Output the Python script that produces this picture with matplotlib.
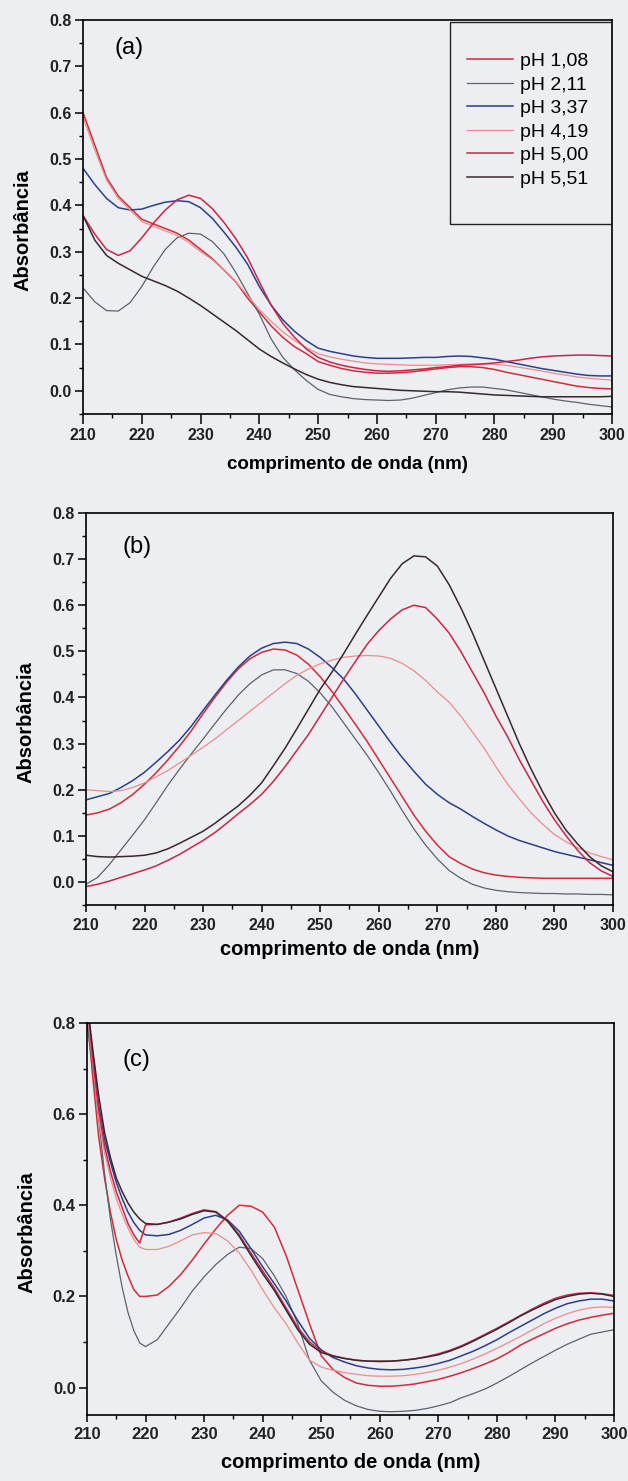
import numpy as np
import matplotlib.pyplot as plt
from matplotlib.patches import Rectangle
from matplotlib.ticker import MultipleLocator

plt.rcParams['font.family'] = ['Liberation Sans', 'DejaVu Sans']

LABELS = ['pH 1,08', 'pH 2,11', 'pH 3,37', 'pH 4,19', 'pH 5,00', 'pH 5,51']
COLORS = ['#d42a3a', '#5c636b', '#2b3f8c', '#ec8c8c', '#cc2448', '#3a2830']

# wavelength grids (nm)
WL_A = list(range(210, 301, 2))
WL_B = list(range(210, 301, 2))
WL_C = list(range(210, 221, 1)) + list(range(222, 301, 2))

# panel (a) absorbance
A_108 = [0.600, 0.530, 0.460, 0.420, 0.395, 0.370, 0.360, 0.350, 0.340, 0.325,
         0.305, 0.285, 0.260, 0.235, 0.200, 0.170, 0.140, 0.115, 0.095, 0.080,
         0.063, 0.055, 0.048, 0.043, 0.040, 0.038, 0.038, 0.039, 0.041, 0.044,
         0.047, 0.050, 0.052, 0.052, 0.050, 0.046, 0.040, 0.035, 0.030, 0.025,
         0.020, 0.015, 0.010, 0.007, 0.005, 0.004]
A_211 = [0.222, 0.192, 0.173, 0.172, 0.190, 0.225, 0.268, 0.305, 0.330, 0.340,
         0.338, 0.322, 0.295, 0.255, 0.210, 0.165, 0.112, 0.072, 0.045, 0.022,
         0.003, -0.008, -0.013, -0.017, -0.019, -0.020, -0.021, -0.020, -0.016, -0.010,
         -0.004, 0.002, 0.006, 0.008, 0.008, 0.005, 0.002, -0.003, -0.008, -0.013,
         -0.018, -0.022, -0.025, -0.029, -0.032, -0.035]
A_337 = [0.480, 0.445, 0.415, 0.395, 0.390, 0.392, 0.400, 0.407, 0.410, 0.408,
         0.395, 0.372, 0.342, 0.310, 0.273, 0.225, 0.185, 0.153, 0.128, 0.108,
         0.092, 0.085, 0.080, 0.075, 0.072, 0.070, 0.070, 0.070, 0.071, 0.072,
         0.072, 0.074, 0.075, 0.074, 0.071, 0.068, 0.063, 0.058, 0.053, 0.048,
         0.044, 0.040, 0.036, 0.033, 0.032, 0.032]
A_419 = [0.590, 0.520, 0.455, 0.415, 0.390, 0.365, 0.355, 0.345, 0.335, 0.320,
         0.300, 0.283, 0.260, 0.235, 0.205, 0.175, 0.150, 0.127, 0.108, 0.093,
         0.080, 0.073, 0.068, 0.064, 0.060, 0.058, 0.057, 0.056, 0.055, 0.055,
         0.055, 0.056, 0.057, 0.058, 0.058, 0.057, 0.055, 0.051, 0.047, 0.043,
         0.038, 0.034, 0.030, 0.027, 0.025, 0.023]
A_500 = [0.378, 0.338, 0.305, 0.292, 0.302, 0.330, 0.362, 0.390, 0.412, 0.422,
         0.415, 0.393, 0.363, 0.328, 0.287, 0.235, 0.185, 0.145, 0.115, 0.090,
         0.072, 0.062, 0.055, 0.050, 0.046, 0.043, 0.042, 0.043, 0.045, 0.047,
         0.050, 0.052, 0.055, 0.056, 0.058, 0.060, 0.063, 0.066, 0.070, 0.073,
         0.075, 0.076, 0.077, 0.077, 0.076, 0.075]
A_551 = [0.378, 0.325, 0.292, 0.275, 0.261, 0.247, 0.237, 0.227, 0.215, 0.200,
         0.184, 0.166, 0.148, 0.130, 0.110, 0.090, 0.074, 0.060, 0.047, 0.035,
         0.025, 0.018, 0.013, 0.009, 0.007, 0.005, 0.003, 0.001, 0.000, -0.001,
         -0.002, -0.002, -0.003, -0.005, -0.007, -0.009, -0.010, -0.011, -0.012, -0.013,
         -0.013, -0.013, -0.013, -0.013, -0.013, -0.012]

# panel (b) absorbance
B_108 = [0.145, 0.150, 0.158, 0.172, 0.190, 0.212, 0.237, 0.265, 0.295, 0.328,
         0.365, 0.400, 0.433, 0.462, 0.484, 0.498, 0.505, 0.503, 0.492, 0.472,
         0.445, 0.413, 0.378, 0.342, 0.305, 0.265, 0.225, 0.185, 0.145, 0.110,
         0.080, 0.055, 0.040, 0.028, 0.020, 0.015, 0.012, 0.010, 0.009, 0.008,
         0.008, 0.008, 0.008, 0.008, 0.008, 0.008]
B_211 = [-0.005, 0.010, 0.038, 0.070, 0.102, 0.135, 0.172, 0.210, 0.245, 0.278,
         0.310, 0.343, 0.375, 0.405, 0.430, 0.449, 0.460, 0.460, 0.452, 0.435,
         0.410, 0.380, 0.345, 0.310, 0.275, 0.237, 0.197, 0.155, 0.115, 0.080,
         0.050, 0.025, 0.008, -0.005, -0.013, -0.018, -0.021, -0.023, -0.024, -0.025,
         -0.025, -0.026, -0.026, -0.027, -0.027, -0.028]
B_337 = [0.178, 0.185, 0.192, 0.205, 0.220, 0.238, 0.260, 0.283, 0.308, 0.338,
         0.372, 0.405, 0.437, 0.466, 0.490, 0.507, 0.517, 0.520, 0.517, 0.505,
         0.487, 0.465, 0.440, 0.408, 0.373, 0.338, 0.303, 0.270, 0.240, 0.212,
         0.190, 0.172, 0.158, 0.142, 0.127, 0.113, 0.100, 0.090, 0.082, 0.074,
         0.066, 0.060, 0.054, 0.048, 0.042, 0.036]
B_419 = [0.200, 0.198, 0.196, 0.198, 0.205, 0.215, 0.228, 0.242, 0.258, 0.275,
         0.292, 0.310, 0.330, 0.350, 0.370, 0.390, 0.410, 0.430, 0.448, 0.462,
         0.473, 0.481, 0.487, 0.490, 0.491, 0.490, 0.485, 0.474, 0.458, 0.437,
         0.412, 0.390, 0.360, 0.325, 0.290, 0.250, 0.212, 0.180, 0.150, 0.125,
         0.103, 0.087, 0.074, 0.063, 0.055, 0.048]
B_500 = [-0.010, -0.005, 0.002, 0.010, 0.018, 0.026, 0.035, 0.047, 0.060, 0.075,
         0.090, 0.107, 0.127, 0.148, 0.168, 0.190, 0.218, 0.250, 0.285, 0.320,
         0.360, 0.400, 0.440, 0.478, 0.515, 0.545, 0.570, 0.590, 0.600, 0.595,
         0.570, 0.540, 0.500, 0.455, 0.410, 0.360, 0.315, 0.265, 0.220, 0.175,
         0.135, 0.100, 0.068, 0.042, 0.024, 0.012]
B_551 = [0.058, 0.055, 0.054, 0.055, 0.056, 0.058, 0.063, 0.072, 0.084, 0.097,
         0.110, 0.127, 0.146, 0.165, 0.188, 0.215, 0.252, 0.290, 0.332, 0.375,
         0.418, 0.455, 0.495, 0.537, 0.578, 0.618, 0.658, 0.690, 0.707, 0.705,
         0.685, 0.645, 0.595, 0.540, 0.480, 0.420, 0.360, 0.300, 0.245, 0.195,
         0.150, 0.112, 0.082, 0.055, 0.035, 0.022]

# panel (c) absorbance
C_108 = [0.820, 0.680, 0.550, 0.460, 0.385, 0.325, 0.280, 0.245, 0.215, 0.200,
         0.200, 0.203, 0.222, 0.248, 0.280, 0.315, 0.348, 0.378, 0.400, 0.398,
         0.385, 0.352, 0.290, 0.215, 0.140, 0.070, 0.040, 0.022, 0.010, 0.005,
         0.003, 0.003, 0.005, 0.008, 0.013, 0.018, 0.025, 0.033, 0.042, 0.052,
         0.063, 0.077, 0.093, 0.106, 0.118, 0.130, 0.140, 0.148, 0.154, 0.159,
         0.163]
C_211 = [0.800, 0.700, 0.590, 0.470, 0.370, 0.290, 0.220, 0.165, 0.125, 0.098,
         0.090, 0.105, 0.140, 0.175, 0.212, 0.243, 0.270, 0.292, 0.308, 0.305,
         0.283, 0.245, 0.200, 0.140, 0.060, 0.015, -0.010, -0.028, -0.040, -0.048,
         -0.052, -0.053, -0.052, -0.050, -0.046, -0.040, -0.033, -0.022, -0.013, -0.003,
         0.010, 0.024, 0.039, 0.054, 0.068, 0.082, 0.095, 0.106, 0.117, 0.122,
         0.127]
C_337 = [0.840, 0.730, 0.620, 0.545, 0.495, 0.450, 0.415, 0.385, 0.362, 0.345,
         0.335, 0.333, 0.336, 0.345, 0.358, 0.372, 0.378, 0.368, 0.343, 0.305,
         0.265, 0.228, 0.190, 0.147, 0.108, 0.083, 0.066, 0.056, 0.048, 0.043,
         0.040, 0.039, 0.040, 0.043, 0.047, 0.053, 0.060, 0.070, 0.080, 0.092,
         0.105, 0.120, 0.134, 0.148, 0.162, 0.174, 0.184, 0.190, 0.194, 0.194,
         0.190]
C_419 = [0.830, 0.710, 0.590, 0.515, 0.460, 0.415, 0.380, 0.350, 0.325, 0.308,
         0.303, 0.303, 0.310, 0.322, 0.335, 0.340, 0.338, 0.322, 0.295, 0.258,
         0.215, 0.175, 0.140, 0.098, 0.060, 0.045, 0.038, 0.033, 0.029, 0.026,
         0.025, 0.025, 0.026, 0.029, 0.033, 0.038, 0.045, 0.053, 0.063, 0.074,
         0.086, 0.099, 0.112, 0.126, 0.140, 0.152, 0.162, 0.170, 0.175, 0.177,
         0.176]
C_500 = [0.850, 0.720, 0.610, 0.530, 0.475, 0.430, 0.395, 0.360, 0.335, 0.317,
         0.357, 0.358, 0.363, 0.372, 0.382, 0.390, 0.386, 0.367, 0.335, 0.295,
         0.256, 0.218, 0.175, 0.132, 0.100, 0.080, 0.070, 0.064, 0.060, 0.058,
         0.057, 0.058, 0.060, 0.063, 0.068, 0.074, 0.082, 0.092, 0.104, 0.117,
         0.130, 0.144, 0.158, 0.172, 0.185, 0.196, 0.203, 0.207, 0.208, 0.206,
         0.202]
C_551 = [0.850, 0.740, 0.640, 0.560, 0.505, 0.460, 0.430, 0.405, 0.385, 0.370,
         0.360, 0.358, 0.363, 0.370, 0.380, 0.388, 0.385, 0.365, 0.332, 0.290,
         0.250, 0.213, 0.170, 0.127, 0.095, 0.077, 0.069, 0.064, 0.060, 0.058,
         0.058, 0.058, 0.060, 0.063, 0.067, 0.072, 0.080, 0.090, 0.102, 0.115,
         0.128, 0.142, 0.157, 0.170, 0.182, 0.193, 0.200, 0.205, 0.207, 0.205,
         0.200]

PANELS = [
    dict(tag='(a)', wl=WL_A, series=[A_108, A_211, A_337, A_419, A_500, A_551],
         rect=[0.1322, 0.7205, 0.8423, 0.2660], ymin=-0.05, ystep=0.1,
         tick=11.5, xlen=7, xpad=3, xlab=13.5, xlab_y=-0.108,
         tagpos=(0.06, 0.929), tagsize=17),
    dict(tag='(b)', wl=WL_B, series=[B_108, B_211, B_337, B_419, B_500, B_551],
         rect=[0.1369, 0.3889, 0.8392, 0.2647], ymin=-0.05, ystep=0.1,
         tick=11.5, xlen=5, xpad=4, xlab=14.5, xlab_y=-0.09,
         tagpos=(0.07, 0.913), tagsize=17),
    dict(tag='(c)', wl=WL_C, series=[C_108, C_211, C_337, C_419, C_500, C_551],
         rect=[0.1385, 0.0446, 0.8392, 0.2647], ymin=-0.06, ystep=0.2,
         tick=12, xlen=5, xpad=4, xlab=14.5, xlab_y=-0.097,
         tagpos=(0.068, 0.906), tagsize=17),
]

BG = '#eceef1'
fig = plt.figure(figsize=(6.28, 14.81), dpi=100, facecolor=BG)

for p in PANELS:
    ax = fig.add_axes(p['rect'])
    ax.set_facecolor(BG)
    for vals, col, lab in zip(p['series'], COLORS, LABELS):
        lw = 0.9 if lab in ('pH 2,11', 'pH 4,19') else 1.1
        ax.plot(p['wl'], vals, color=col, lw=lw, label=lab)

    ax.set_xlim(210, 300)
    ax.set_ylim(p['ymin'], 0.8)
    ax.xaxis.set_major_locator(MultipleLocator(10))
    ax.xaxis.set_minor_locator(MultipleLocator(5))
    ax.yaxis.set_major_locator(MultipleLocator(p['ystep']))
    ax.yaxis.set_minor_locator(MultipleLocator(p['ystep'] / 2))
    ax.yaxis.set_major_formatter(plt.FormatStrFormatter('%.1f'))

    for s in ax.spines.values():
        s.set_linewidth(1.2)
    ax.tick_params(which='major', direction='out', width=1.1, labelsize=p['tick'],
                   labelcolor='#222222')
    ax.tick_params(axis='x', which='major', length=p['xlen'], pad=p['xpad'])
    ax.tick_params(axis='y', which='major', length=6, pad=2)
    ax.tick_params(which='minor', direction='out', length=3, width=1.0)
    for t in ax.get_xticklabels() + ax.get_yticklabels():
        t.set_fontweight('bold')

    ax.set_xlabel('comprimento de onda (nm)', fontsize=p['xlab'], fontweight='bold')
    ax.set_ylabel('Absorbância', fontsize=14.5, fontweight='bold')
    ax.xaxis.set_label_coords(0.5, p['xlab_y'])
    ax.yaxis.set_label_coords(-0.095, 0.467)

    ax.text(p['tagpos'][0], p['tagpos'][1], p['tag'], transform=ax.transAxes,
            fontsize=p['tagsize'], va='center', ha='left')

    if p['tag'] == '(a)':
        ax.add_patch(Rectangle((0.694, 0.482), 0.306, 0.513, transform=ax.transAxes,
                               fill=False, edgecolor='#222222', lw=1.0))
        ax.legend(loc='upper left', bbox_to_anchor=(0.726, 0.917), frameon=False,
                  fontsize=14, handlelength=2.35, handletextpad=0.35,
                  labelspacing=0.3, borderpad=0, borderaxespad=0)

fig.savefig('out.png', dpi=100, facecolor=BG)
